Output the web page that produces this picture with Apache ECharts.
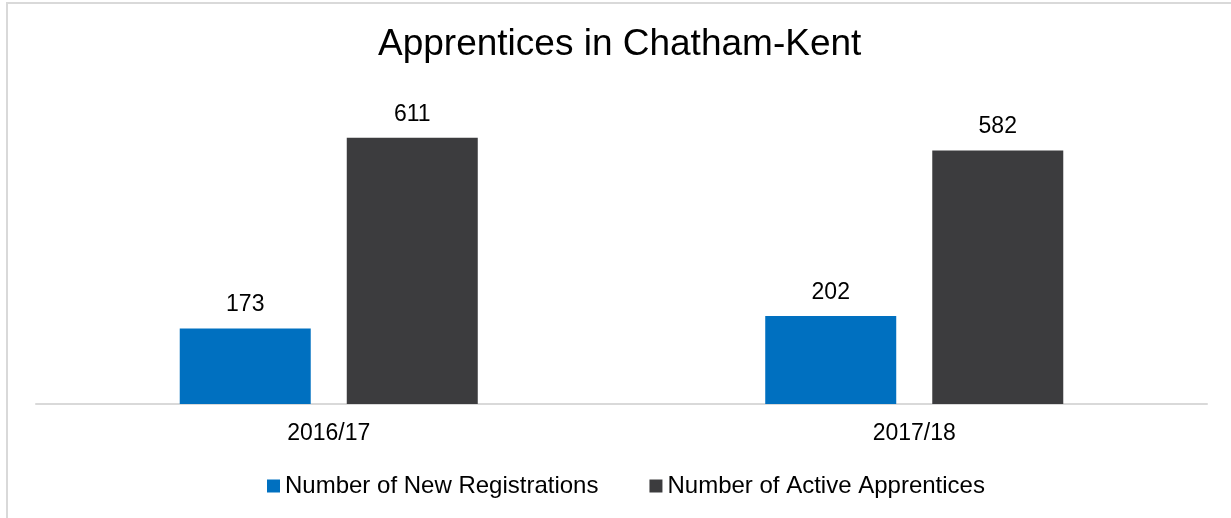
<!DOCTYPE html>
<html>
<head>
<meta charset="utf-8">
<script src="https://cdn.jsdelivr.net/npm/echarts@6/dist/echarts.min.js"></script>
<style>
html,body{margin:0;padding:0;background:#fff;}
#chart{width:1231px;height:518px;}
</style>
</head>
<body>
<div id="chart"></div>
<script>
const titleText = 'Apprentices in Chatham-Kent';
const categories = ['2016/17', '2017/18'];
const seriesNames = ['Number of New Registrations', 'Number of Active Apprentices'];
const newRegistrations = [173, 202];
const activeApprentices = [611, 582];

const FONT = '"Liberation Sans", Arial, sans-serif';
const chart = echarts.init(document.getElementById('chart'), null, {renderer: 'canvas'});
const labelStyle = {show: true, position: 'top', distance: 12, color: '#000', fontSize: 23, fontFamily: FONT};
chart.setOption({
  animation: false,
  backgroundColor: '#fff',
  graphic: [{
    type: 'rect', silent: true, z: -1,
    shape: {x: 7, y: 3, width: 1400, height: 700},
    style: {fill: 'none', stroke: '#d9d9d9', lineWidth: 2}
  }],
  title: {
    text: titleText, left: 373, top: 21,
    textStyle: {fontFamily: FONT, fontSize: 37, fontWeight: 'normal', color: '#000'}
  },
  legend: {
    left: 262, top: 469,
    itemWidth: 13, itemHeight: 13, itemGap: 51,
    icon: 'rect',
    textStyle: {fontFamily: FONT, fontSize: 24, color: '#000'},
    data: seriesNames
  },
  grid: {left: 36, right: 24, top: 99, bottom: 114, containLabel: false},
  xAxis: {
    type: 'category', data: categories,
    axisLine: {lineStyle: {color: '#d9d9d9', width: 2}},
    axisTick: {show: false},
    axisLabel: {color: '#000', fontSize: 23, fontFamily: FONT, margin: 18}
  },
  yAxis: {
    type: 'value', min: 0, max: 700, interval: 100,
    show: false, splitLine: {show: false}
  },
  series: [
    {name: seriesNames[0], type: 'bar', data: newRegistrations, barWidth: 131, barGap: '27.5%',
     itemStyle: {color: '#0070C0'}, label: labelStyle},
    {name: seriesNames[1], type: 'bar', data: activeApprentices, barWidth: 131,
     itemStyle: {color: '#3C3C3E'}, label: labelStyle}
  ]
});
</script>
</body>
</html>
